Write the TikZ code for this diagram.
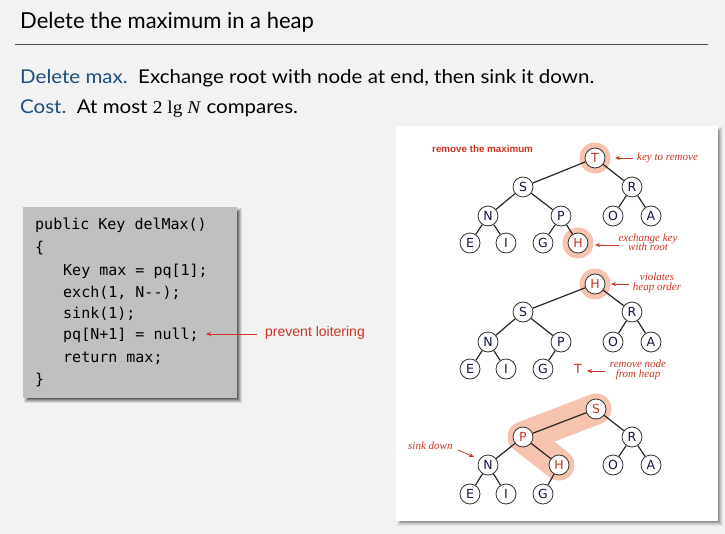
\documentclass[tikz,border=0pt]{standalone}
\usepackage{fontspec}
\setmainfont{Liberation Serif}
\setsansfont{Lato}
\setmonofont{DejaVu Sans Mono}
\newfontfamily\nodefont{DejaVu Sans}
\newfontfamily\labfont{Liberation Sans}
\usetikzlibrary{arrows.meta}
\definecolor{bgc}{HTML}{F2F2F2}
\definecolor{codebg}{HTML}{C0C0C0}
\definecolor{hdblue}{HTML}{1D4F80}
\definecolor{redc}{HTML}{CC3322}
\definecolor{hilite}{HTML}{F5C3AE}
\definecolor{navy}{HTML}{101840}
\begin{document}
\begin{tikzpicture}[x=1pt,y=-1pt,
  hn/.style={circle,draw=black!80,line width=0.8pt,fill=white,minimum size=20pt,inner sep=0pt,font=\nodefont\fontsize{12.5}{12.5}\selectfont,text=navy},
  hr/.style={hn,text=redc},
  ring/.style={circle,fill=hilite,minimum size=31pt,inner sep=0pt},
  edge/.style={line width=1.2pt,black!85},
  lab/.style={font=\itshape\fontsize{11}{11.5}\selectfont,text=redc,align=center,inner sep=0pt},
  rarr/.style={redc,line width=0.8pt,-{Stealth[length=5pt,width=4pt]}},
  codeline/.style={anchor=base west,inner sep=0pt,font=\ttfamily\fontsize{15}{15}\selectfont}
]
\useasboundingbox (0,0) rectangle (725,534);
\fill[bgc] (0,0) rectangle (725,534);
% title
\node[anchor=base west,inner sep=0pt,font=\sffamily\fontsize{22}{22}\selectfont] (title) at (20,29) {Delete the maximum in a heap};
\draw[black!70,line width=0.8pt] (15,44) -- (708,44);
\node[anchor=base west,inner sep=0pt,font=\sffamily\fontsize{19}{19}\selectfont] (l1) at (20,84) {\scalebox{1.08}[1]{\textcolor{hdblue}{Delete max.}\ \ Exchange root with node at end, then sink it down.}};
\node[anchor=base west,inner sep=0pt,font=\sffamily\fontsize{19}{19}\selectfont] (l2) at (20,114) {\scalebox{1.08}[1]{\textcolor{hdblue}{Cost.}\ \ At most {\rmfamily\fontsize{18}{18}\selectfont 2 lg \textit{N}} compares.}};
% code box with shadow
\foreach \i/\o in {1/0.10,2/0.12,3/0.15,4/0.2,5/0.25}{
  \fill[black,opacity=\o] (23+\i,207+\i) rectangle (237+6-\i,398+6-\i);
}
\fill[codebg] (23,207) rectangle (237,398);
\node[codeline] (c1) at (35,230) {public Key delMax()};
\node[codeline] (c2) at (35,253) {\{};
\node[codeline] (c3) at (63,276) {Key max = pq[1];};
\node[codeline] (c4) at (63,298) {exch(1, N{-}{-});};
\node[codeline] (c5) at (63,319) {sink(1);};
\node[codeline] (c6) at (63,340) {pq[N+1] = null;};
\node[codeline] (c7) at (63,362) {return max;};
\node[codeline] (c8) at (35,384) {\}};
\node[anchor=west,inner sep=0pt,font=\labfont\fontsize{14}{14}\selectfont,text=redc] (pl) at (265,333) {prevent loitering};
\coordinate (pa) at (257,334);
\coordinate (pb) at (206,334);
\draw[rarr] (pa) -- (pb);
% right panel
\foreach \i/\o in {1/0.05,2/0.07,3/0.09,4/0.12,5/0.15}{
  \fill[black,opacity=\o] (396+\i,126+\i) rectangle (718+6-\i,521+6-\i);
}
\fill[white] (396,126) rectangle (718,521);
\node[anchor=base west,inner sep=0pt,font=\labfont\bfseries\fontsize{9.8}{9.8}\selectfont,text=redc] (rm) at (432,153) {remove the maximum};
% tree 1
\node[ring] at (595,158) {};
\node[ring] at (578,243) {};
\node[hr] (aT) at (595,158) {T};
\node[hn] (aS) at (523,187) {S};
\node[hn] (aR) at (632,187) {R};
\node[hn] (aN) at (488,216) {N};
\node[hn] (aP) at (561,216) {P};
\node[hn] (aO) at (613,216) {O};
\node[hn] (aA) at (651,216) {A};
\node[hn] (aE) at (470,243) {E};
\node[hn] (aI) at (506,243) {I};
\node[hn] (aG) at (543,243) {G};
\node[hr] (aH) at (578,243) {H};
\foreach \u/\v in {aT/aS,aT/aR,aS/aN,aS/aP,aR/aO,aR/aA,aN/aE,aN/aI,aP/aG,aP/aH}
  \draw[edge] (\u) -- (\v);
\node[lab,anchor=west] (k1) at (637,158) {key to remove};
\draw[rarr] (k1.west) ++(-4,0) coordinate (k1a) -- ++(-18,0) coordinate (k1b);
\node[lab] (k2) at (648,242) {exchange key\\[-2pt]with root};
\coordinate (k2a) at (619,245);
\coordinate (k2b) at (595,245);
\draw[rarr] (k2a) -- (k2b);
% tree 2
\node[ring] at (595,284) {};
\node[hr] (bH) at (595,284) {H};
\node[hn] (bS) at (523,312) {S};
\node[hn] (bR) at (632,312) {R};
\node[hn] (bN) at (488,342) {N};
\node[hn] (bP) at (561,342) {P};
\node[hn] (bO) at (613,342) {O};
\node[hn] (bA) at (651,342) {A};
\node[hn] (bE) at (470,369) {E};
\node[hn] (bI) at (506,369) {I};
\node[hn] (bG) at (543,369) {G};
\node[font=\nodefont\fontsize{12.5}{12.5}\selectfont,text=redc,inner sep=0pt] (bT) at (578,369) {T};
\foreach \u/\v in {bH/bS,bH/bR,bS/bN,bS/bP,bR/bO,bR/bA,bN/bE,bN/bI,bP/bG}
  \draw[edge] (\u) -- (\v);
\node[lab] (k3) at (657,283) {violates\\[-2pt]heap order};
\coordinate (k3a) at (629,284);
\coordinate (k3b) at (611,284);
\draw[rarr] (k3a) -- (k3b);
\node[lab] (k4) at (638,370) {remove node\\[-2pt]from heap};
\coordinate (k4a) at (605,371);
\coordinate (k4b) at (587,371);
\draw[rarr] (k4a) -- (k4b);
% tree 3
\draw[hilite,line width=31pt,line cap=round,line join=round] (596,409) -- (523,437) -- (559,465);
\node[hr] (cS) at (596,409) {S};
\node[hr] (cP) at (523,437) {P};
\node[hn] (cR) at (632,437) {R};
\node[hn] (cN) at (488,465) {N};
\node[hr] (cH) at (559,465) {H};
\node[hn] (cO) at (613,465) {O};
\node[hn] (cA) at (651,465) {A};
\node[hn] (cE) at (470,494) {E};
\node[hn] (cI) at (506,494) {I};
\node[hn] (cG) at (543,494) {G};
\foreach \u/\v in {cS/cP,cS/cR,cP/cN,cP/cH,cR/cO,cR/cA,cN/cE,cN/cI,cH/cG}
  \draw[edge] (\u) -- (\v);
\node[lab,anchor=base west] (k5) at (408,449) {sink down};
\coordinate (k5a) at (458,450);
\coordinate (k5b) at (474,457);
\draw[rarr] (k5a) -- (k5b);
\end{tikzpicture}
\end{document}
